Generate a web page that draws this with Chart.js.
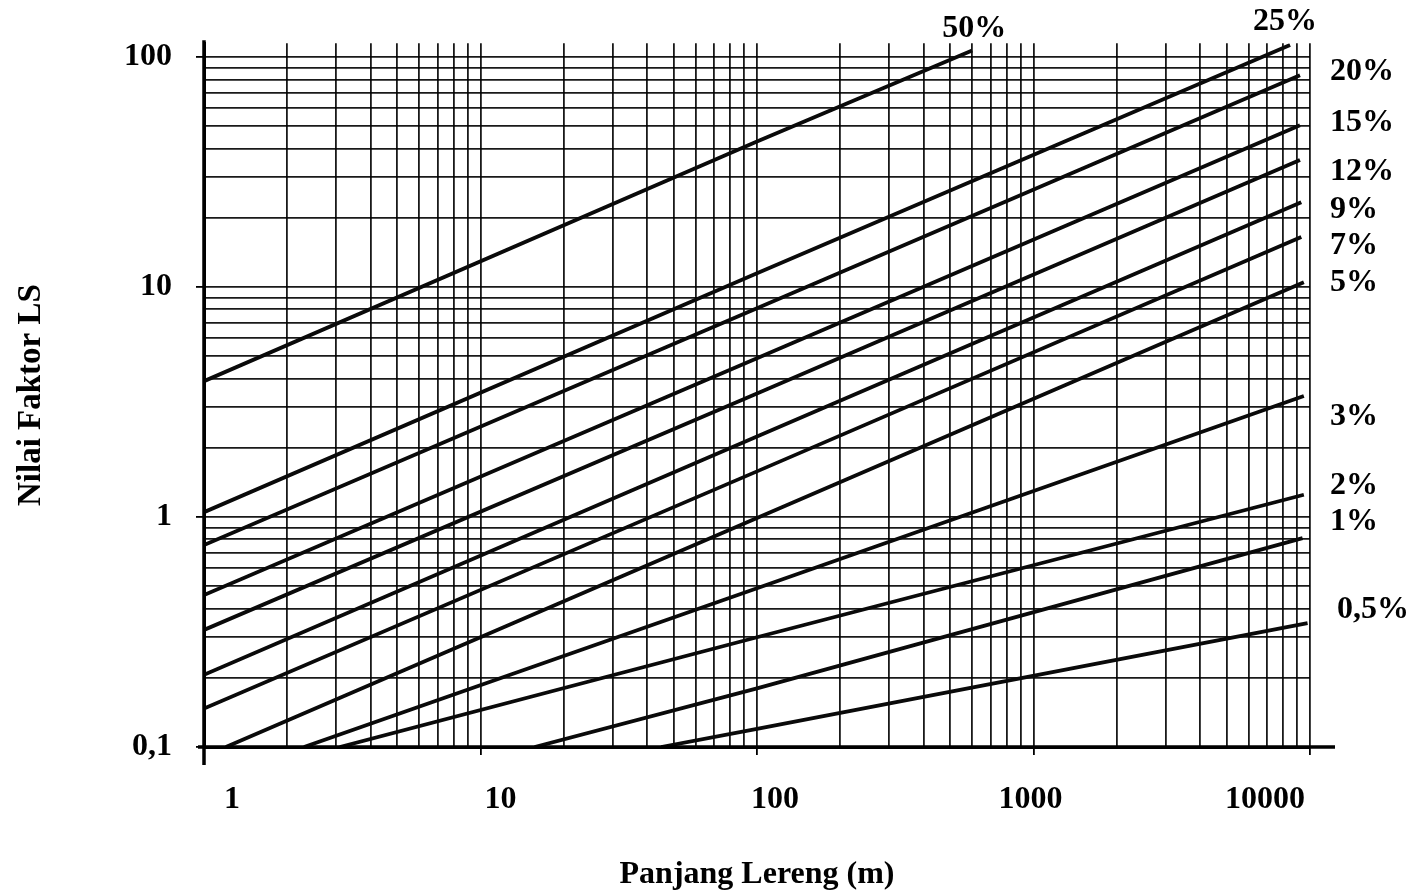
<!DOCTYPE html>
<html>
<head>
<meta charset="utf-8">
<script src="https://cdn.jsdelivr.net/npm/chart.js@4.4.1/dist/chart.umd.min.js"></script>
<style>
html,body{margin:0;padding:0;background:#fff;}
#wrap{position:relative;width:1411px;height:896px;}
</style>
</head>
<body>
<div id="wrap"><canvas id="c"></canvas></div>
<script>
// ---- data (slope length in m, LS factor) ----
const slopeNames = ['50%','25%','20%','15%','12%','9%','7%','5%','3%','2%','1%','0,5%'];
const len50 = [1, 100, 600];     const ls50 = [3.9, 43, 107];
const len25 = [1, 100, 8470];    const ls25 = [1.05, 11.5, 113];
const len20 = [1, 100, 9200];    const ls20 = [0.755, 8.1, 83.5];
const len15 = [1, 100, 9200];    const ls15 = [0.458, 4.9, 50.6];
const len12 = [1, 100, 9200];    const ls12 = [0.323, 3.45, 35.7];
const len9  = [1, 100, 9300];    const ls9  = [0.206, 2.24, 23.4];
const len7  = [1, 100, 9300];    const ls7  = [0.147, 1.58, 16.5];
const len5  = [1.2, 100, 9500];  const ls5  = [0.1, 0.99, 10.5];
const len3  = [2.3, 100, 9500];  const ls3  = [0.1, 0.49, 3.36];
const len2  = [3.1, 100, 9500];  const ls2  = [0.1, 0.30, 1.25];
const len1  = [15.7, 100, 9400]; const ls1  = [0.1, 0.18, 0.81];
const len05 = [45, 100, 9800];   const ls05 = [0.1, 0.12, 0.346];

const seriesLen = [len50,len25,len20,len15,len12,len9,len7,len5,len3,len2,len1,len05];
const seriesLS  = [ls50,ls25,ls20,ls15,ls12,ls9,ls7,ls5,ls3,ls2,ls1,ls05];

// axis ticks
const xMajorTicks = [1, 10, 100, 1000, 10000];
const xTickLabels = ['1', '10', '100', '1000', '10000'];
const yMajorTicks = [0.1, 1, 10, 100];
const yTickLabels = ['0,1', '1', '10', '100'];
const gridMultipliers = [1,2,3,4,5,6,7,8,9];

// ---- styling ----
// pixel offsets of the slope labels from each line's end
const labelStyle = [
  {mode:'top', dx: 2, dy:-22},
  {mode:'top', dx:-5, dy:-23},
  {mode:'right', dx:0, dy:-3},
  {mode:'right', dx:0, dy:-2},
  {mode:'right', dx:0, dy:12},
  {mode:'right', dx:0, dy:8},
  {mode:'right', dx:0, dy:9},
  {mode:'right', dx:0, dy:1},
  {mode:'right', dx:0, dy:21},
  {mode:'right', dx:0, dy:-9},
  {mode:'right', dx:0, dy:-16},
  {mode:'right', dx:7, dy:-13}
];
// horizontal nudges of the x tick labels (as printed in the original)
const xLabelNudge = [28, 20, 18, -3, -45];
const FONT = "'Liberation Serif','Times New Roman',serif";
const FS = 32;

function gridValues(majors){
  const out = [];
  for (let i = 0; i < majors.length - 1; i++) {
    gridMultipliers.forEach(m => out.push(+(majors[i] * m).toPrecision(6)));
  }
  out.push(majors[majors.length - 1]);
  return out;
}
const xGrid = gridValues(xMajorTicks);
const yGrid = gridValues(yMajorTicks);

function isMajor(v, majors){ return majors.some(m => Math.abs(m - v) / m < 1e-6); }
function labelFor(v, majors, labels){
  const i = majors.findIndex(m => Math.abs(m - v) / m < 1e-6);
  return i >= 0 ? labels[i] : '';
}

const datasets = slopeNames.map((name, i) => ({
  label: name,
  data: seriesLen[i].map((l, j) => ({x: l, y: seriesLS[i][j]})),
  borderColor: '#0a0a0a',
  borderWidth: 3.8,
  pointRadius: 0,
  tension: 0,
  fill: false
}));

const labelPlugin = {
  id: 'slopeLabels',
  afterDatasetsDraw(chart){
    const ctx = chart.ctx;
    const area = chart.chartArea;
    ctx.save();
    ctx.fillStyle = '#000';
    ctx.font = "bold " + FS + "px " + FONT;
    ctx.textBaseline = 'middle';
    chart.data.datasets.forEach((ds, i) => {
      const meta = chart.getDatasetMeta(i);
      const last = meta.data[meta.data.length - 1];
      const st = labelStyle[i];
      if (st.mode === 'top') {
        ctx.textAlign = 'center';
        ctx.fillText(ds.label, last.x + st.dx, last.y + st.dy);
      } else {
        ctx.textAlign = 'left';
        ctx.fillText(ds.label, area.right + 20 + st.dx, last.y + st.dy);
      }
    });
    // x tick labels, placed from the x scale with the original's nudges
    const xs = chart.scales.x;
    ctx.textAlign = 'center';
    ctx.textBaseline = 'middle';
    xMajorTicks.forEach((v, i) => {
      ctx.fillText(xTickLabels[i], xs.getPixelForValue(v) + xLabelNudge[i], area.bottom + 53);
    });
    ctx.restore();
  }
};

const axisPlugin = {
  id: 'axisLines',
  afterDraw(chart){
    const ctx = chart.ctx, a = chart.chartArea;
    ctx.save();
    ctx.strokeStyle = '#000';
    ctx.lineWidth = 3.5;
    ctx.beginPath();
    ctx.moveTo(a.left, a.top - 3);
    ctx.lineTo(a.left, a.bottom + 18);
    ctx.moveTo(a.left - 6, a.bottom);
    ctx.lineTo(a.right + 25, a.bottom);
    ctx.stroke();
    ctx.restore();
  }
};

new Chart(document.getElementById('c'), {
  type: 'line',
  data: { datasets },
  plugins: [labelPlugin, axisPlugin],
  options: {
    responsive: true,
    maintainAspectRatio: false,
    animation: false,
    layout: { padding: { top: 43, right: 101, bottom: 0, left: 0 } },
    plugins: { legend: { display: false }, tooltip: { enabled: false } },
    scales: {
      x: {
        type: 'logarithmic',
        min: 1, max: 10000,
        afterBuildTicks(scale){ scale.ticks = xGrid.map(v => ({value: v})); },
        afterFit(scale){ scale.height = 149; },
        grid: {
          color: 'rgba(0,0,0,0.9)',
          lineWidth: 1.8,
          drawTicks: true,
          tickLength: 8,
          tickColor: (c) => (c.tick && isMajor(c.tick.value, xMajorTicks)) ? '#000' : 'rgba(0,0,0,0)'
        },
        border: { display: true, color: '#000', width: 3 },
        ticks: {
          autoSkip: false,
          maxRotation: 0,
          padding: 28,
          color: 'rgba(0,0,0,0)',
          font: { family: FONT, size: FS, weight: 'bold' },
          callback: (v) => labelFor(v, xMajorTicks, xTickLabels)
        },
        title: {
          display: true,
          text: 'Panjang Lereng (m)',
          color: '#000',
          font: { family: FONT, size: FS, weight: 'bold' },
          padding: { top: 0, bottom: 2 }
        }
      },
      y: {
        type: 'logarithmic',
        min: 0.1, max: 115,
        afterBuildTicks(scale){ scale.ticks = yGrid.map(v => ({value: v})); },
        afterFit(scale){ scale.width = 204; },
        grid: {
          color: (c) => (c.tick && c.tick.value > 100.5) ? 'rgba(0,0,0,0)' : 'rgba(0,0,0,0.9)',
          lineWidth: 1.8,
          drawTicks: true,
          tickLength: 8,
          tickColor: (c) => (c.tick && isMajor(c.tick.value, yMajorTicks)) ? '#000' : 'rgba(0,0,0,0)'
        },
        border: { display: true, color: '#000', width: 3 },
        ticks: {
          autoSkip: false,
          padding: 24,
          color: '#000',
          font: { family: FONT, size: FS, weight: 'bold' },
          callback: (v) => labelFor(v, yMajorTicks, yTickLabels)
        },
        title: {
          display: true,
          text: 'Nilai Faktor LS',
          color: '#000',
          font: { family: FONT, size: 33, weight: 'bold' },
          padding: { top: 12, bottom: 0 }
        }
      }
    }
  }
});
</script>
</body>
</html>
